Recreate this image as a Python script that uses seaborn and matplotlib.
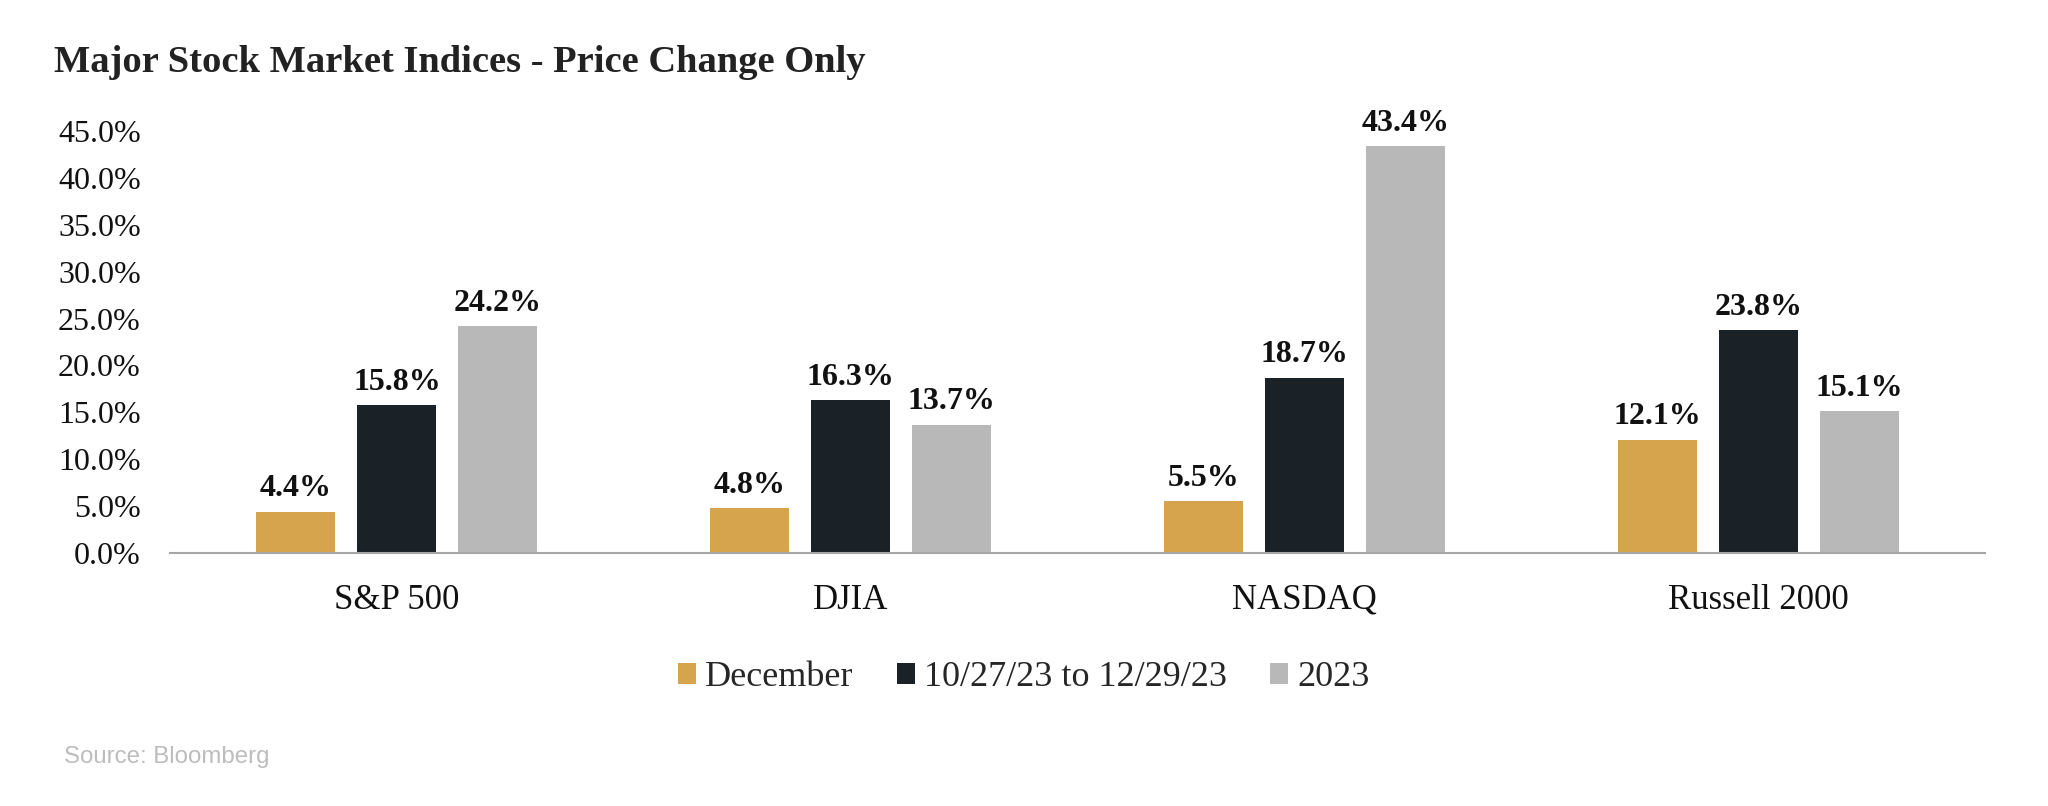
import matplotlib
matplotlib.use("Agg")
import matplotlib.pyplot as plt
import seaborn as sns
import pandas as pd
from matplotlib.patches import Patch

categories = ["S&P 500", "DJIA", "NASDAQ", "Russell 2000"]
series_names = ["December", "10/27/23 to 12/29/23", "2023"]
december = [4.4, 4.8, 5.5, 12.1]
period = [15.8, 16.3, 18.7, 23.8]
year_2023 = [24.2, 13.7, 43.4, 15.1]
y_ticks = [0, 5, 10, 15, 20, 25, 30, 35, 40, 45]
colors = ["#D6A44C", "#1B2227", "#B8B8B8"]

rows = []
for name, vals in zip(series_names, [december, period, year_2023]):
    for c, v in zip(categories, vals):
        rows.append({"Index": c, "Series": name, "Value": v})
df = pd.DataFrame(rows)

sns.set_style("white")
plt.rcParams["font.family"] = ["Liberation Serif", "DejaVu Serif"]

fig = plt.figure(figsize=(20.48, 8.06), dpi=100)
ax = fig.add_axes([170 / 2048, 1 - 553 / 806, (1985 - 170) / 2048, (553 - 131) / 806])

sns.barplot(data=df, x="Index", y="Value", hue="Series", order=categories,
            hue_order=series_names, palette=colors, width=0.668, gap=0.218,
            linewidth=0, saturation=1, ax=ax, legend=False)

ax.set_ylim(0, 45)
ax.set_xlim(-0.5, 3.5)
ax.set_yticks(y_ticks)
ax.set_yticklabels([f"{t:.1f}%" for t in y_ticks])
ax.set_xlabel("")
ax.set_ylabel("")
for s in ["top", "right", "left"]:
    ax.spines[s].set_visible(False)
ax.spines["bottom"].set_color("#A6A6A6")
ax.spines["bottom"].set_linewidth(1.5)
ax.tick_params(axis="y", length=0, pad=21, labelsize=23, labelcolor="#111111")
ax.tick_params(axis="x", length=0, pad=22, labelsize=25, labelcolor="#111111")

for cont in ax.containers:
    for bar in cont:
        h = bar.get_height()
        ax.annotate(f"{h:.1f}%", (bar.get_x() + bar.get_width() / 2, h),
                    xytext=(0, 11), textcoords="offset points",
                    ha="center", va="baseline", fontsize=23,
                    fontweight="bold", color="#111111", annotation_clip=False)

fig.text(54 / 2048, 1 - 62 / 806, "Major Stock Market Indices - Price Change Only",
         fontsize=27.7, fontweight="bold", color="#222222", ha="left", va="center")

handles = [Patch(facecolor=c, edgecolor="none") for c in colors]
fig.legend(handles, series_names, loc="center", bbox_to_anchor=(0.5, 1 - 678 / 806),
           ncol=3, frameon=False, fontsize=26, handlelength=0.5, handleheight=0.5,
           handletextpad=0.25, columnspacing=1.2)

fig.text(64 / 2048, 1 - 757 / 806, "Source: Bloomberg", fontsize=17.3,
         family=["Liberation Sans", "DejaVu Sans"], color="#BDBDBD",
         ha="left", va="center")

fig.savefig("out.png", dpi=100)
